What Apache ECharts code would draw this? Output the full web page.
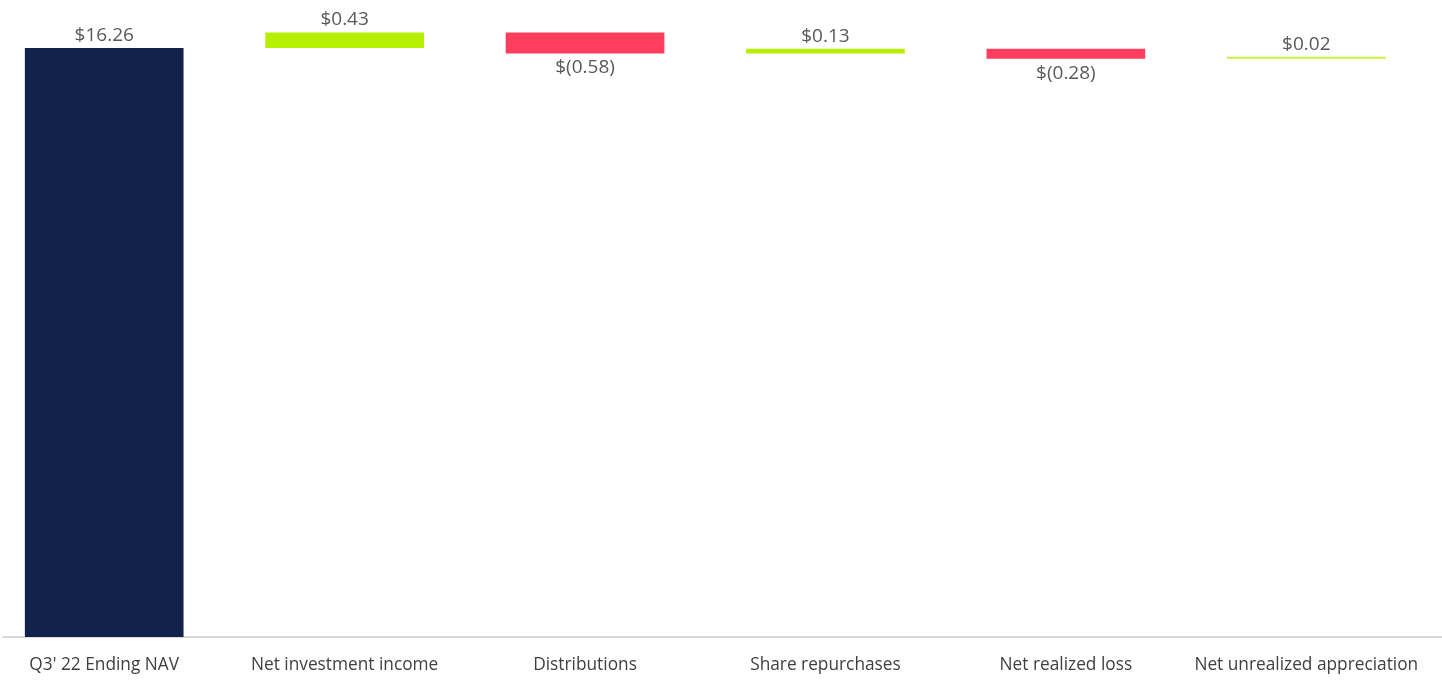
<!DOCTYPE html>
<html><head><meta charset="utf-8">
<script src="https://cdn.jsdelivr.net/npm/echarts@6/dist/echarts.min.js"></script>
<style>html,body{margin:0;padding:0;background:#fff;overflow:hidden}#c{position:absolute;left:-16px;top:0;width:1458px;height:681px}</style>
</head><body><div id="c"></div>
<script>
const categories = ["Q3' 22 Ending NAV","Net investment income","Distributions","Share repurchases","Net realized loss","Net unrealized appreciation"];
const deltas = [16.26, 0.43, -0.58, 0.13, -0.28, 0.02];
const colors = ["#13224b", "#b6f000", "#ff3e5e", "#b6f000", "#ff3e5e", "#c2f23a"];

let run = 0;
const base = [], size = [];
deltas.forEach((d, i) => {
  if (i === 0) { base.push(0); size.push(d); run = d; }
  else {
    const nxt = run + d;
    base.push(Math.min(run, nxt));
    size.push(Math.abs(d));
    run = nxt;
  }
});
function fmt(v){ return v < 0 ? '$(' + Math.abs(v).toFixed(2) + ')' : '$' + v.toFixed(2); }

const chart = echarts.init(document.getElementById('c'));
chart.setOption({
  animation: false,
  grid: [
    {left: 0, right: 15.5, top: 21.2, bottom: 44, containLabel: false},
    {left: 19, right: 0, top: 21.2, bottom: 44, containLabel: false}
  ],
  xAxis: [{
    type: 'category', data: categories, gridIndex: 0,
    axisLine: {show: false},
    axisTick: {show: false},
    axisLabel: {color: '#404040', fontSize: 17.3, fontFamily: 'Open Sans', margin: 20, interval: 0},
    splitLine: {show: false}
  }, {
    type: 'category', data: [''], gridIndex: 1,
    axisLine: {show: true, lineStyle: {color: '#d9d9d9', width: 2}},
    axisTick: {show: false}, axisLabel: {show: false}, splitLine: {show: false}
  }],
  yAxis: [
    {type: 'value', min: 0, max: 17, show: false, gridIndex: 0},
    {type: 'value', min: 0, max: 17, show: false, gridIndex: 1}
  ],
  series: [
    {type: 'bar', stack: 'w', data: base, barWidth: '66%', itemStyle: {color: 'transparent'}, silent: true, z: 3},
    {type: 'bar', stack: 'w', barWidth: '66%', z: 3, barMinHeight: 2,
     data: size.map((v, i) => ({
       value: v,
       itemStyle: {color: colors[i]},
       label: {show: true, position: deltas[i] < 0 ? 'bottom' : 'top', formatter: fmt(deltas[i]),
               color: '#595959', fontSize: 19, fontFamily: 'Open Sans', distance: deltas[i] < 0 ? 5 : 3}
     }))
    }
  ]
});
</script></body></html>
